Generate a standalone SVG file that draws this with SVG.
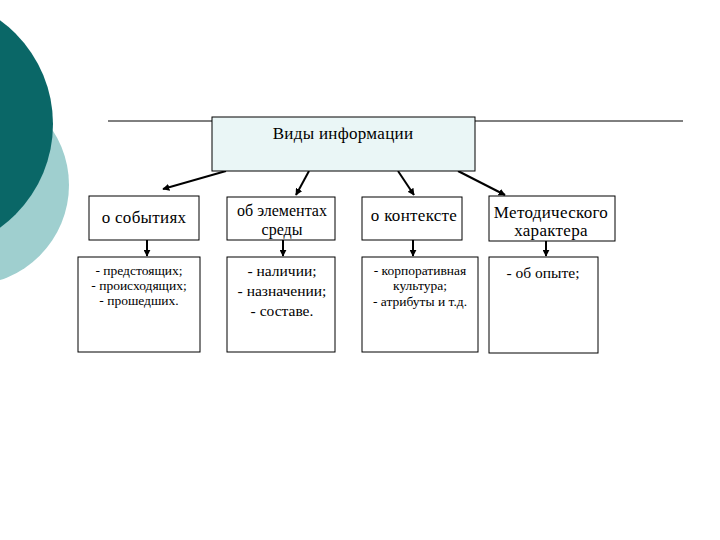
<svg xmlns="http://www.w3.org/2000/svg" width="720" height="540" viewBox="0 0 720 540">
<defs>
<marker id="ah" viewBox="0 0 10 10" refX="9" refY="5" markerWidth="7" markerHeight="7" markerUnits="userSpaceOnUse" orient="auto">
<path d="M0,0 L10,5 L0,10 z" fill="#000"/>
</marker>
<style>
.box{fill:#fff;stroke:#000;stroke-width:1}
.t{font-family:"Liberation Serif","Times New Roman",serif;fill:#000;text-anchor:middle}
.h{font-size:17px;letter-spacing:0.3px}
.s{font-size:13.5px}
.m{font-size:15.5px}
.c line{stroke:#000;stroke-width:2;marker-end:url(#ah)}
</style>
</defs>
<rect width="720" height="540" fill="#fff"/>
<g id="decor">
<circle cx="-31" cy="185" r="100" fill="#9fcfcf"/>
<circle cx="-75" cy="124" r="128" fill="#0a6767"/>
<line x1="108" y1="121" x2="683" y2="121" stroke="#000" stroke-width="1"/>
</g>
<g class="c" id="connectors">
<line x1="226" y1="171" x2="163" y2="189"/>
<line x1="309" y1="171" x2="296" y2="195"/>
<line x1="398" y1="171" x2="414" y2="195"/>
<line x1="458" y1="171" x2="505" y2="195"/>
<line x1="147" y1="240" x2="147" y2="256"/>
<line x1="283" y1="240" x2="283" y2="256"/>
<line x1="413" y1="240" x2="413" y2="256"/>
<line x1="546" y1="241" x2="546" y2="256"/>
</g>
<g id="root">
<rect x="212" y="117" width="263" height="54" fill="#eaf6f6" stroke="#000"/>
<text class="t h" x="343" y="139">Виды информации</text>
</g>
<g id="events">
<rect class="box" x="89" y="196" width="110" height="44"/>
<text class="t h" x="144" y="223">о событиях</text>
</g>
<g id="elements">
<rect class="box" x="227" y="197" width="108" height="43"/>
<text class="t m" x="282" y="216" style="font-size:16px">об элементах</text>
<text class="t m" x="282" y="235" style="font-size:16px">среды</text>
</g>
<g id="context">
<rect class="box" x="362" y="197" width="100" height="43"/>
<text class="t h" x="414" y="221">о контексте</text>
</g>
<g id="method">
<rect class="box" x="489" y="196" width="126" height="45"/>
<text class="t h" x="551" y="218">Методического</text>
<text class="t h" x="551" y="236">характера</text>
</g>
<g id="events-list">
<rect class="box" x="78" y="257" width="122" height="95"/>
<text class="t s" x="139" y="275">- предстоящих;</text>
<text class="t s" x="139" y="290">- происходящих;</text>
<text class="t s" x="139" y="305">- прошедших.</text>
</g>
<g id="elements-list">
<rect class="box" x="227" y="257" width="108" height="95"/>
<text class="t m" x="282" y="276">- наличии;</text>
<text class="t m" x="282" y="296">- назначении;</text>
<text class="t m" x="282" y="316">- составе.</text>
</g>
<g id="context-list">
<rect class="box" x="362" y="257" width="116" height="95"/>
<text class="t s" x="420" y="275">- корпоративная</text>
<text class="t s" x="420" y="290">культура;</text>
<text class="t s" x="420" y="306">- атрибуты и т.д.</text>
</g>
<g id="method-list">
<rect class="box" x="489" y="257" width="109" height="96"/>
<text class="t m" x="543" y="278">- об опыте;</text>
</g>
</svg>
